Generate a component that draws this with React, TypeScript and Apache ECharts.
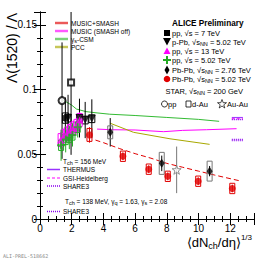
import React, { useEffect, useRef } from "react";
import * as echarts from "echarts";

// [x, y, stat, sys]
const ppSeven = [[1.6, 0.078, 0.016, 0.004]];
const pPbFive = [
  [1.77, 0.078, 0.018, 0.003],
  [2.49, 0.078, 0.015, 0.003],
  [2.85, 0.0765, 0.014, 0.003],
  [3.27, 0.0775, 0.015, 0.003],
];
const ppThirteen = [
  [1.3, 0.061, 0.006, 0.005],
  [1.5, 0.064, 0.006, 0.005],
  [1.7, 0.066, 0.006, 0.005],
  [1.9, 0.068, 0.006, 0.005],
  [2.1, 0.070, 0.006, 0.005],
  [2.3, 0.072, 0.006, 0.005],
  [2.5, 0.0765, 0.006, 0.005],
];
const ppFive = [
  [1.33, 0.057, 0.012, 0.004],
  [1.62, 0.0615, 0.01, 0.004],
  [1.85, 0.063, 0.009, 0.004],
  [2.05, 0.065, 0.009, 0.004],
  [2.38, 0.071, 0.008, 0.004],
];
const pbpbTwoSeven = [
  [4.43, 0.067, 0.011, 0.005],
  [7.68, 0.043, 0.006, 0.0085],
  [10.7, 0.037, 0.004, 0.0077],
];
const pbpbFive = [
  [3.12, 0.065, 0.006, 0.005],
  [5.23, 0.0485, 0.003, 0.004],
  [6.86, 0.0385, 0.003, 0.004],
  [8.06, 0.033, 0.003, 0.004],
  [9.98, 0.0292, 0.003, 0.004],
  [12.13, 0.0236, 0.003, 0.004],
];
const starPp = [[1.39, 0.0915, 0.045, 0]];
const starDAu = [[1.96, 0.1056, 0.056, 0]];
const starAuAu = [[8.62, 0.038, 0.018, 0]];

// model curves [x, y]
const musicSmash = [[3.5, 0.061], [4, 0.059], [5, 0.0545], [6, 0.0505], [7, 0.047], [8, 0.043], [9, 0.04], [10, 0.037], [11, 0.034], [12.6, 0.0295]];
const musicOff = [[3.6, 0.0695], [4.5, 0.069], [6, 0.0688], [7.8, 0.0675], [9, 0.0685], [10.5, 0.069], [12.4, 0.0698]];
const gsCsm = [[1.45, 0.092], [2.0, 0.088], [2.3, 0.085], [2.9, 0.083], [3.6, 0.082], [4.4, 0.081], [6, 0.08], [8, 0.0785], [10, 0.077], [11.3, 0.0755]];
const pcc = [[4.43, 0.074], [5.9, 0.067], [8.2, 0.062], [10.7, 0.0577]];
const thermus = [[12.1, 0.0785], [12.8, 0.0785]];
const gsi = [[12.1, 0.0775], [12.8, 0.0775]];
const share156 = [[12.1, 0.077], [12.8, 0.077]];
const share138 = [[12.1, 0.0615], [12.8, 0.0615]];
const share138b = [[12.1, 0.0605], [12.8, 0.0605]];

const xTicks = [0, 2, 4, 6, 8, 10, 12];

const RED = "#e00000";
const MAG = "#ff00ff";
const GRN = "#22aa22";
const LGRN = "#33bb33";
const OLV = "#a8a800";
const THER = "#9933ff";
const SHR = "#8a00f0";
const GREY = "#777777";

const CROSS = "path://M3,0H5V3H8V5H5V8H3V5H0V3H3Z";
const DIAM = "path://M2,0L4,5L2,10L0,5Z";
const STAR = "path://M5,0L6.2,3.6L10,3.6L6.9,5.9L8.1,9.5L5,7.3L1.9,9.5L3.1,5.9L0,3.6L3.8,3.6Z";

function errSeries(data: number[][], color: string, boxColor: string, boxW: number) {
  return {
    type: "custom",
    clip: true,
    z: 3,
    data,
    renderItem: (params: any, api: any) => {
      const x = api.value(0), y = api.value(1), e = api.value(2), s = api.value(3);
      const p = api.coord([x, y]);
      const hi = api.coord([x, y + e]);
      const lo = api.coord([x, y - e]);
      const children: any[] = [
        { type: "line", shape: { x1: p[0], y1: hi[1], x2: p[0], y2: lo[1] }, style: { stroke: color, lineWidth: 1 } },
      ];
      if (s > 0) {
        const t = api.coord([x, y + s]);
        const b = api.coord([x, y - s]);
        children.push({
          type: "rect",
          shape: { x: p[0] - boxW, y: t[1], width: boxW * 2, height: b[1] - t[1] },
          style: { fill: "none", stroke: boxColor, lineWidth: 1 },
        });
      }
      return { type: "group", children };
    },
  };
}

function pts(name: string, data: number[][], symbol: string, size: any, color: string, extra: any = {}) {
  return {
    type: "scatter",
    name,
    data: data.map((d) => [d[0], d[1]]),
    symbol,
    symbolSize: size,
    z: 5,
    itemStyle: { color, ...(extra.itemStyle || {}) },
    symbolRotate: extra.rotate || 0,
  };
}

function curve(name: string, data: number[][], color: string, type: any, width = 1) {
  return {
    type: "line",
    name,
    data,
    symbol: "none",
    z: 2,
    lineStyle: { color, type, width },
  };
}

const FONT = "Liberation Sans, Arial, Helvetica, sans-serif";

function txt(x: number, y: number, text: string, size: number, extra: any = {}) {
  return {
    type: "text",
    x,
    y,
    style: {
      text,
      fontSize: size,
      fontFamily: FONT,
      fill: "#000",
      textVerticalAlign: "middle",
      ...extra,
    },
  };
}

function band(x: number, y: number, color: string) {
  return [
    { type: "rect", shape: { x, y: y - 1.5, width: 13, height: 3 }, style: { fill: color, opacity: 0.3 } },
    { type: "line", shape: { x1: x, y1: y, x2: x + 13, y2: y }, style: { stroke: color, lineWidth: 1 } },
  ];
}

const subRich = {
  sub: { fontSize: 5.5, fontFamily: FONT, verticalAlign: "bottom", padding: [4, 0, 0, 0] },
};

export default function App() {
  const ref = useRef<HTMLDivElement>(null);
  useEffect(() => {
    if (!ref.current) return;
    const chart = echarts.init(ref.current, undefined, { renderer: "svg" });
    const axisCommon = {
      type: "value",
      axisLine: { show: true, lineStyle: { color: "#000", width: 1 } },
      axisTick: { show: true, inside: true, length: 6, lineStyle: { color: "#000" } },
      minorTick: { show: true, length: 3, lineStyle: { color: "#000" } },
      splitLine: { show: false },
    };
    const lbl = { fontSize: 10, fontFamily: FONT, color: "#000" };
    const option: any = {
      animation: false,
      backgroundColor: "#fff",
      grid: { left: 40, right: 14, top: 12, bottom: 41 },
      xAxis: [
        {
          ...axisCommon,
          position: "bottom",
          min: 0,
          max: 13.5,
          interval: 2,
          minorTick: { ...axisCommon.minorTick, splitNumber: 4 },
          axisLabel: { ...lbl, margin: 4, showMaxLabel: false, formatter: (v: number) => (xTicks.includes(v) ? String(v) : "") },
        },
        {
          ...axisCommon,
          position: "top",
          min: 0,
          max: 13.5,
          interval: 2,
          minorTick: { ...axisCommon.minorTick, splitNumber: 4 },
          axisLabel: { show: false },
        },
      ],
      yAxis: [
        {
          ...axisCommon,
          position: "left",
          min: 0,
          max: 0.16,
          interval: 0.05,
          minorTick: { ...axisCommon.minorTick, splitNumber: 5 },
          axisLabel: { ...lbl, margin: 3, showMaxLabel: false, formatter: (v: number) => String(Number(v.toFixed(3))) },
        },
        {
          ...axisCommon,
          position: "right",
          min: 0,
          max: 0.16,
          interval: 0.05,
          minorTick: { ...axisCommon.minorTick, splitNumber: 5 },
          axisLabel: { show: false },
        },
      ],
      series: [
        curve("MUSIC+SMASH", musicSmash, RED, [5, 3]),
        curve("MUSIC (SMASH off)", musicOff, MAG, "solid"),
        curve("γs-CSM", gsCsm, LGRN, "solid"),
        curve("PCC", pcc, OLV, "solid"),
        curve("THERMUS", thermus, THER, "solid"),
        curve("GSI-Heidelberg", gsi, MAG, [3, 2]),
        curve("SHARE3 156", share156, SHR, [1, 1], 1.5),
        curve("SHARE3 138", share138, SHR, [1, 1], 1.5),
        curve("SHARE3 138b", share138b, SHR, [1, 1], 1),
        errSeries(starPp, "#000", "#000", 3),
        errSeries(starDAu, "#000", "#000", 3),
        errSeries(starAuAu, GREY, GREY, 3),
        errSeries(ppSeven, "#000", "#000", 3),
        errSeries(pPbFive, "#000", "#000", 3),
        errSeries(ppThirteen, MAG, MAG, 2.5),
        errSeries(ppFive, GRN, GRN, 2.5),
        errSeries(pbpbTwoSeven, "#000", GREY, 2.5),
        errSeries(pbpbFive, RED, RED, 2.5),
        pts("STAR pp", starPp, "emptyCircle", 7, "#000"),
        pts("STAR d-Au", starDAu, "emptyRect", 6, "#000"),
        pts("STAR Au-Au", starAuAu, STAR, 9, "#fff", { itemStyle: { borderColor: "#777", borderWidth: 1 } }),
        pts("pp 7 TeV", ppSeven, "rect", 6, "#000"),
        pts("p-Pb 5.02 TeV", pPbFive, "triangle", 8, "#000", { rotate: 180 }),
        pts("pp 13 TeV", ppThirteen, "triangle", 7, MAG),
        pts("pp 5.02 TeV", ppFive, CROSS, 8, GRN),
        pts("Pb-Pb 2.76 TeV", pbpbTwoSeven, DIAM, [6, 9], "#000"),
        pts("Pb-Pb 5.02 TeV", pbpbFive, "circle", 7, RED),
      ],
      graphic: [
        {
          type: "text",
          x: 12,
          y: 13,
          rotation: Math.PI / 2,
          style: { text: "Λ(1520) / Λ", fontSize: 14, fontFamily: FONT, fill: "#000", textAlign: "right", textVerticalAlign: "middle" },
        },
        {
          type: "text",
          x: 252,
          y: 242,
          style: {
            text: "⟨dN{sub|ch}/dη⟩{sup|1/3}",
            fontSize: 13,
            fontFamily: FONT,
            fill: "#000",
            textAlign: "right",
            textVerticalAlign: "middle",
            rich: {
              sub: { fontSize: 9, fontFamily: FONT, verticalAlign: "bottom", padding: [8, 0, 0, 0] },
              sup: { fontSize: 8, fontFamily: FONT, verticalAlign: "top", padding: [0, 0, 8, 0] },
            },
          },
        },
        ...band(55, 23, RED),
        ...band(55, 31, MAG),
        ...band(55, 39, LGRN),
        ...band(55, 47, OLV),
        txt(71, 23, "MUSIC+SMASH", 6.5),
        txt(71, 31, "MUSIC (SMASH off)", 6.5),
        txt(71, 39, "γ{sub|s}-CSM", 6.5, { rich: subRich }),
        txt(71, 47, "PCC", 6.5),
        txt(172, 23, "ALICE Preliminary", 8.2, { fontWeight: "bold" }),
        { type: "rect", shape: { x: 164, y: 30, width: 6, height: 6 }, style: { fill: "#000" } },
        { type: "polygon", shape: { points: [[163, 38], [171, 38], [167, 45.5]] }, style: { fill: "#000" } },
        { type: "polygon", shape: { points: [[163.5, 54], [170.5, 54], [167, 47.5]] }, style: { fill: MAG } },
        {
          type: "polygon",
          shape: { points: [[166, 56], [168, 56], [168, 59], [171, 59], [171, 61], [168, 61], [168, 64], [166, 64], [166, 61], [163, 61], [163, 59], [166, 59]] },
          style: { fill: GRN },
        },
        { type: "polygon", shape: { points: [[167, 65.5], [169.5, 70], [167, 74.5], [164.5, 70]] }, style: { fill: "#000" } },
        { type: "circle", shape: { cx: 167, cy: 79, r: 3.3 }, style: { fill: RED } },
        txt(172, 33, "pp, √s = 7 TeV", 7.5),
        txt(172, 42, "p-Pb, √s{sub|NN} = 5.02 TeV", 7.5, { rich: subRich }),
        txt(172, 51, "pp, √s = 13 TeV", 7.5),
        txt(172, 60, "pp, √s = 5.02 TeV", 7.5),
        txt(172, 70, "Pb-Pb, √s{sub|NN} = 2.76 TeV", 7.5, { rich: subRich }),
        txt(172, 79, "Pb-Pb, √s{sub|NN} = 5.02 TeV", 7.5, { rich: subRich }),
        txt(243, 91, "STAR, √s{sub|NN} = 200 GeV", 7.5, { rich: subRich, textAlign: "right" }),
        { type: "circle", shape: { cx: 164.5, cy: 104, r: 3 }, style: { fill: "none", stroke: "#000", lineWidth: 0.8 } },
        txt(168, 104, "pp", 7.5),
        { type: "rect", shape: { x: 186, y: 101, width: 5, height: 6 }, style: { fill: "none", stroke: "#000", lineWidth: 0.8 } },
        txt(192, 104, "d-Au", 7.5),
        {
          type: "polygon",
          shape: { points: [[222, 99.5], [223.2, 102.7], [226.5, 102.7], [223.8, 104.8], [224.8, 108], [222, 106], [219.2, 108], [220.2, 104.8], [217.5, 102.7], [220.8, 102.7]] },
          style: { fill: "none", stroke: "#000", lineWidth: 0.7 },
        },
        txt(227, 104, "Au-Au", 7.5),
        txt(63, 161, "T{sub|ch} = 156 MeV", 6.5, { rich: subRich }),
        { type: "line", shape: { x1: 47, y1: 169.5, x2: 60, y2: 169.5 }, style: { stroke: THER, lineWidth: 1.5 } },
        txt(63, 169.5, "THERMUS", 6.5),
        { type: "line", shape: { x1: 47, y1: 178, x2: 60, y2: 178 }, style: { stroke: MAG, lineWidth: 1, lineDash: [3, 2] } },
        txt(63, 178, "GSI-Heidelberg", 6.5),
        { type: "line", shape: { x1: 47, y1: 186, x2: 60, y2: 186 }, style: { stroke: SHR, lineWidth: 1.5, lineDash: [1, 1] } },
        txt(63, 186, "SHARE3", 6.5),
        txt(65, 201, "T{sub|ch} = 138 MeV, γ{sub|q} = 1.63, γ{sub|s} = 2.08", 6.5, { rich: subRich }),
        { type: "line", shape: { x1: 47, y1: 211.5, x2: 60, y2: 211.5 }, style: { stroke: SHR, lineWidth: 1.5, lineDash: [1, 1] } },
        txt(63, 211.5, "SHARE3", 6.5),
        txt(3, 256, "ALI-PREL-518662", 5, { fill: "#888", fontFamily: "DejaVu Sans Mono, monospace" }),
      ],
    };
    chart.setOption(option);
    return () => chart.dispose();
  }, []);
  return <div ref={ref} style={{ width: 268, height: 260, position: "absolute", left: 0, top: 0 }} />;
}
